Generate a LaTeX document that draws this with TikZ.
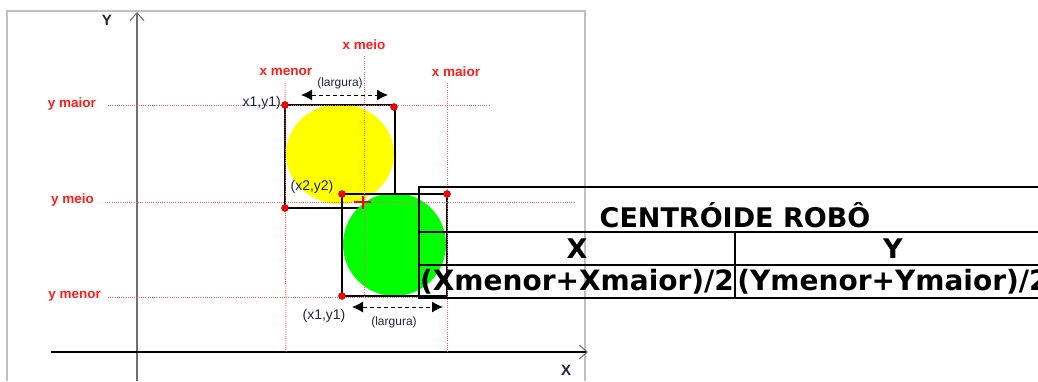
\documentclass[tikz,border=0pt]{standalone}
\usepackage{fontspec}
\setmainfont{Liberation Sans}
\newfontfamily\tablefont{DejaVu Sans}
\usetikzlibrary{arrows.meta}

\definecolor{guidered}{HTML}{FF5C5C}
\definecolor{labelred}{HTML}{FF1E1E}
\definecolor{inkblue}{HTML}{1F2440}
\definecolor{robotyellow}{HTML}{FFFF00}
\definecolor{robotgreen}{HTML}{00FF00}
\definecolor{framegray}{HTML}{C0C0C0}
\definecolor{axisgray}{HTML}{707070}

\tikzset{
  guide/.style={guidered, line width=1pt, dash pattern=on 1pt off 1.2pt},
  guidelabel/.style={text=labelred, font=\bfseries\fontsize{13.5}{15}\selectfont, inner sep=0pt},
  coordlabel/.style={text=inkblue, font=\fontsize{14}{16}\selectfont, inner sep=0pt},
  widthlabel/.style={text=inkblue, font=\fontsize{12}{14}\selectfont, inner sep=0pt},
  corner/.style={circle, fill=red, draw=red!60!black, line width=0.4pt, inner sep=0pt, minimum size=7pt},
  bbox/.style={black, line width=1.3pt},
  dimarrow/.style={black, line width=1pt, dash pattern=on 4pt off 3pt,
    {Latex[length=11pt,width=11pt]}-{Latex[length=11pt,width=11pt]}},
  axisline/.style={-{Straight Barb[length=8pt,width=14pt,line width=1pt,color=axisgray]}},
  cell/.style={font=\tablefont\bfseries\fontsize{27}{30}\selectfont, inner sep=0pt},
  tableline/.style={black, line width=2.5pt}
}

\begin{document}
\begin{tikzpicture}[x=1pt,y=-1pt]
  \useasboundingbox (0,0) rectangle (1038,381);
  \clip (0,0) rectangle (1038,381);

  % Frame of the picture
  \draw[framegray, line width=1.2pt] (7,381) -- (7,11) -- (585,11) -- (585,381);

  % Corners of the two boxes
  \coordinate (ytl) at (285,105);
  \coordinate (ybr) at (395,208);
  \coordinate (gtl) at (342,194);
  \coordinate (gbr) at (447,296);
  \coordinate (centro) at (363,202);

  % Robots and their boxes
  \fill[robotyellow] (340,154) ellipse [x radius=54, y radius=50];
  \draw[bbox] (ytl) rectangle (ybr);
  \fill[robotgreen] (394.5,244.5) circle [radius=51.5];
  \draw[bbox] (gtl) rectangle (gbr);

  % Axes
  \coordinate (yaxis-base) at (137,381);
  \coordinate (yaxis-tip) at (137,12);
  \coordinate (xaxis-base) at (51,352);
  \coordinate (xaxis-tip) at (588,352);
  \draw[axisline, axisgray, line width=2pt] (yaxis-base) -- (yaxis-tip);
  \draw[axisline, black, line width=1.2pt] (xaxis-base) -- (xaxis-tip);
  \node[coordlabel, font=\bfseries\fontsize{15}{17}\selectfont] (ylab) at (107,20) {Y};
  \node[coordlabel, font=\bfseries\fontsize{15}{17}\selectfont] (xlab) at (566,370) {X};

  % Guide labels
  \node[guidelabel, anchor=east] (ymaior) at (96,104) {y maior};
  \node[guidelabel, anchor=east] (ymeio) at (94,200) {y meio};
  \node[guidelabel, anchor=east] (ymenor) at (101,296) {y menor};
  \node[guidelabel] (xmenor) at (286,72) {x menor};
  \node[guidelabel] (xmeio) at (364,45) {x meio};
  \node[guidelabel] (xmaior) at (456,72) {x maior};

  % Guide lines
  \draw[guide] (ymaior.east) ++(12,1) -- (490,105);
  \draw[guide] (ymeio.east) ++(11,2) -- (575,202);
  \draw[guide] (ymenor.east) ++(7,1) -- (490,297);
  \draw[guide] (285,83) -- (xmenor |- xaxis-base);
  \draw[guide] (xmeio.south) ++(0,6) -- (364,297);
  \draw[guide] (447,83) -- (447,352);

  % Corner points
  \node[corner] (c1) at (ytl) {};
  \node[corner] (c2) at (394,107) {};
  \node[corner] (c3) at (285,208) {};
  \node[corner] (c4) at (gtl) {};
  \node[corner] (c5) at (447,194) {};
  \node[corner] (c6) at (342,296) {};

  % Centroid mark
  \draw[red, line width=2pt] ([xshift=-9pt]centro) -- ([xshift=8pt]centro);
  \draw[red, line width=2pt] ([yshift=6pt]centro) -- ([yshift=-7pt]centro);

  % Point and width labels
  \node[coordlabel, anchor=east] (p1) at (281,103) {x1,y1)};
  \node[coordlabel] (p2) at (312,187) {(x2,y2)};
  \node[coordlabel] (p3) at (324,316) {(x1,y1)};
  \node[widthlabel] (w1) at (340,83) {(largura)};
  \node[widthlabel] (w2) at (394,322) {(largura)};
  \coordinate (w1a) at (301,95);
  \coordinate (w1b) at (388,95);
  \coordinate (w2a) at (352,307);
  \coordinate (w2b) at (443,307);
  \draw[dimarrow] (w1a) -- (w1b);
  \draw[dimarrow] (w2a) -- (w2b);

  % Table
  \draw[tableline] (419,187) rectangle (1051,298);
  \draw[tableline] (419,232) -- (1051,232);
  \draw[tableline] (419,265) -- (1051,265);
  \draw[tableline] (735,232) -- (735,298);
  \node[cell] (titulo) at (735,215) {CENTRÓIDE ROBÔ};
  \node[cell] (colx) at (577,249) {X};
  \node[cell] (coly) at (893,249) {Y};
  \node[cell, font=\tablefont\bfseries\fontsize{28}{30}\selectfont] (formx) at (577,282) {(Xmenor+Xmaior)/2};
  \node[cell, font=\tablefont\bfseries\fontsize{28}{30}\selectfont] (formy) at (893,282) {(Ymenor+Ymaior)/2};
\end{tikzpicture}
\end{document}
